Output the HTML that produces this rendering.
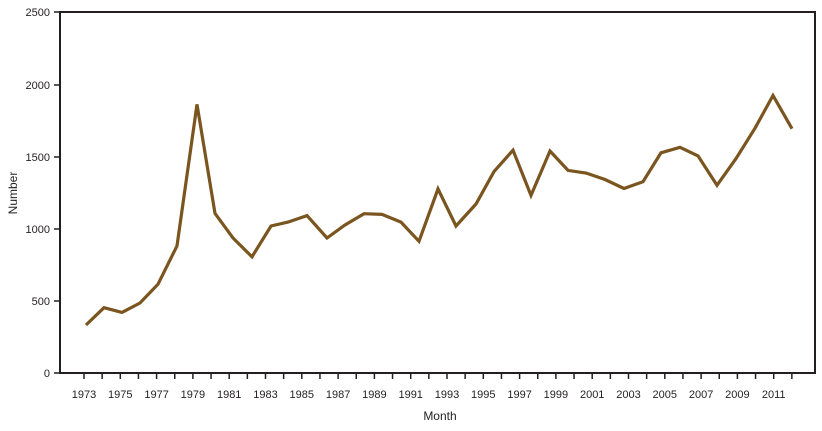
<!DOCTYPE html>
<html><head><meta charset="utf-8"><style>
html,body{margin:0;padding:0;background:#fff;}
text{font-family:"Liberation Sans",sans-serif;font-size:11px;fill:#231f20;}
</style></head><body>
<svg width="822" height="426" viewBox="0 0 822 426" xmlns="http://www.w3.org/2000/svg">
<rect x="60" y="12" width="755" height="361" fill="none" stroke="#231f20" stroke-width="2"/>
<g stroke="#231f20" stroke-width="1.5">
<line x1="54" y1="373" x2="60" y2="373"/><line x1="54" y1="301" x2="60" y2="301"/><line x1="54" y1="229" x2="60" y2="229"/><line x1="54" y1="157" x2="60" y2="157"/><line x1="54" y1="85" x2="60" y2="85"/><line x1="54" y1="12" x2="60" y2="12"/>
</g>
<g text-anchor="end">
<text x="50" y="377">0</text><text x="50" y="305">500</text><text x="50" y="233">1000</text><text x="50" y="161">1500</text><text x="50" y="89">2000</text><text x="50" y="16">2500</text>
</g>
<g id="ticks" stroke="#231f20" stroke-width="1.5"></g>
<g id="labels" text-anchor="middle"></g>
<text x="440" y="420" text-anchor="middle" style="font-size:12px">Month</text>
<text transform="translate(17,193) rotate(-90)" text-anchor="middle" style="font-size:12px">Number</text>
<polyline fill="none" stroke="#7a5520" stroke-width="3.2" stroke-linejoin="miter" points="86,325 104,307.7 122,312.4 140,303 158,284.2 177,245.9 197,104.4 215,213.4 233,238 252,256.8 271,226 288,222.1 307,215.6 327,238 345,225 364,213.7 382,214.4 401,222.1 419,241.3 438,188.9 456,226 476,204 494,171.6 513,150.2 531,195.4 550,151 568,170.4 586,173 605,179.5 624,188.5 643,181.7 661,152.8 680,147.3 698,155.9 717,185.3 736,158.6 755,128.2 773,95.5 792,128.7"/>
</svg>
<script>
var t=document.getElementById('ticks'),l=document.getElementById('labels'),ns='http://www.w3.org/2000/svg';
for(var i=0;i<40;i++){var x=84+i*18.15;var a=document.createElementNS(ns,'line');a.setAttribute('x1',x);a.setAttribute('x2',x);a.setAttribute('y1',373);a.setAttribute('y2',379);t.appendChild(a);
if(i%2==0){var s=document.createElementNS(ns,'text');s.setAttribute('x',x);s.setAttribute('y',398);s.textContent=1973+i;l.appendChild(s);}}
</script>
</body></html>
